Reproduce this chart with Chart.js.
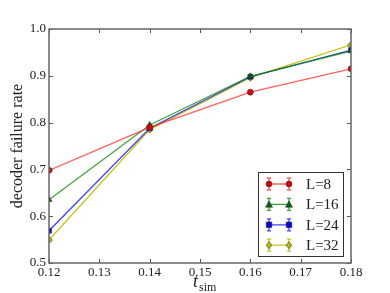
<!DOCTYPE html>
<html>
<head>
<meta charset="utf-8">
<script src="https://cdn.jsdelivr.net/npm/chart.js@4/dist/chart.umd.min.js"></script>
<style>
  html, body { margin: 0; padding: 0; background: #fff; }
  #wrap { width: 390px; height: 293px; }
</style>
</head>
<body>
<div id="wrap"><canvas id="chart" width="390" height="293"></canvas></div>
<script>
// ---- data ----
var tSim   = [0.12, 0.14, 0.16, 0.18];
var xTicks = [0.12, 0.13, 0.14, 0.15, 0.16, 0.17, 0.18];
var yTicks = [0.5, 0.6, 0.7, 0.8, 0.9, 1.0];
var rateL8  = [0.698, 0.790, 0.865, 0.915];
var rateL16 = [0.635, 0.795, 0.899, 0.953];
var rateL24 = [0.569, 0.788, 0.898, 0.955];
var rateL32 = [0.549, 0.785, 0.896, 0.966];
var labels  = ['L=8', 'L=16', 'L=24', 'L=32'];

var FONT = '"Liberation Serif", "DejaVu Serif", serif';
var series = [
    { data: rateL8,  line: 'rgba(255,40,40,0.75)', fill: '#e00000', style: 'circle',   r: 3 },
    { data: rateL16, line: 'rgba(0,128,0,0.75)',   fill: '#006400', style: 'triangle', r: 3.5 },
    { data: rateL24, line: 'rgba(0,0,255,0.75)',   fill: '#0000e0', style: 'rect',     r: 3.5 },
    { data: rateL32, line: 'rgba(190,190,0,0.9)',  fill: '#b8b800', style: 'rectRot',  r: 3.5 }
];

function pts(arr) {
    return arr.map(function(v, i){ return { x: tSim[i], y: v }; });
}

var datasets = series.map(function(s, i){
    return {
        label: labels[i], data: pts(s.data),
        borderColor: s.line, borderWidth: 1.3,
        pointStyle: s.style, pointRadius: s.r, pointBackgroundColor: s.fill,
        pointBorderColor: '#333', pointBorderWidth: 0.6
    };
});

function drawMarker(ctx, style, x, y, r, fill) {
    ctx.save();
    ctx.fillStyle = fill; ctx.strokeStyle = '#333'; ctx.lineWidth = 0.6;
    ctx.beginPath();
    if (style === 'circle') ctx.arc(x, y, r, 0, Math.PI*2);
    else if (style === 'triangle') { ctx.moveTo(x, y-r); ctx.lineTo(x+r, y+r*0.8); ctx.lineTo(x-r, y+r*0.8); ctx.closePath(); }
    else if (style === 'rect') ctx.rect(x-r*0.8, y-r*0.8, r*1.6, r*1.6);
    else { ctx.moveTo(x, y-r); ctx.lineTo(x+r*0.8, y); ctx.lineTo(x, y+r); ctx.lineTo(x-r*0.8, y); ctx.closePath(); }
    ctx.fill(); ctx.stroke();
    ctx.restore();
}

var framePlugin = {
    id: 'frame',
    afterDraw: function(chart) {
        var ctx = chart.ctx, a = chart.chartArea;
        var xs = chart.scales.x, ys = chart.scales.y;
        ctx.save();
        ctx.strokeStyle = '#555'; ctx.lineWidth = 1;
        // inside tick marks on all four sides
        ctx.beginPath();
        xTicks.forEach(function(t){
            var px = Math.round(xs.getPixelForValue(t)) + 0.5;
            ctx.moveTo(px, a.bottom); ctx.lineTo(px, a.bottom - 4);
            ctx.moveTo(px, a.top); ctx.lineTo(px, a.top + 4);
        });
        yTicks.forEach(function(t){
            var py = Math.round(ys.getPixelForValue(t)) + 0.5;
            ctx.moveTo(a.left, py); ctx.lineTo(a.left + 4, py);
            ctx.moveTo(a.right, py); ctx.lineTo(a.right - 4, py);
        });
        ctx.stroke();
        ctx.lineWidth = 1.5; ctx.strokeStyle = '#666';
        ctx.strokeRect(a.left, a.top, a.right - a.left, a.bottom - a.top);

        // tick labels
        ctx.fillStyle = '#222'; ctx.font = '13px ' + FONT;
        ctx.textAlign = 'center'; ctx.textBaseline = 'top';
        xTicks.forEach(function(t){ ctx.fillText(t.toFixed(2), xs.getPixelForValue(t), a.bottom + 3); });
        ctx.textAlign = 'right'; ctx.textBaseline = 'middle';
        yTicks.forEach(function(t){ ctx.fillText(t.toFixed(1), a.left - 3, ys.getPixelForValue(t)); });

        // axis titles
        ctx.font = '16px ' + FONT;
        ctx.save();
        ctx.translate(18, (a.top + a.bottom) / 2);
        ctx.rotate(-Math.PI / 2);
        ctx.textAlign = 'center'; ctx.textBaseline = 'middle';
        ctx.fillText('decoder failure rate', 0, 0);
        ctx.restore();
        ctx.textAlign = 'left'; ctx.textBaseline = 'alphabetic';
        ctx.font = 'italic 18px ' + FONT;
        ctx.fillText('t', 193, 287);
        ctx.font = '12px ' + FONT;
        ctx.fillText('sim', 199, 291);

        // legend with error-bar glyphs
        var lx = 258, ly = 172, lw = 85, lh = 84;
        ctx.fillStyle = '#fff'; ctx.fillRect(lx, ly, lw, lh);
        ctx.strokeStyle = '#333'; ctx.lineWidth = 1;
        ctx.strokeRect(lx + 0.5, ly + 0.5, lw, lh);
        series.forEach(function(s, i){
            var y = 184 + i * 20.4, x1 = 269, x2 = 289;
            ctx.strokeStyle = s.line; ctx.lineWidth = 1.3;
            ctx.beginPath(); ctx.moveTo(x1, y); ctx.lineTo(x2, y);
            [x1, x2].forEach(function(x){
                ctx.moveTo(x, y - 6); ctx.lineTo(x, y + 6);
                ctx.moveTo(x - 2, y - 6); ctx.lineTo(x + 2, y - 6);
                ctx.moveTo(x - 2, y + 6); ctx.lineTo(x + 2, y + 6);
            });
            ctx.stroke();
            drawMarker(ctx, s.style, x1, y, s.r, s.fill);
            drawMarker(ctx, s.style, x2, y, s.r, s.fill);
            ctx.fillStyle = '#222'; ctx.font = '15px ' + FONT;
            ctx.textAlign = 'left'; ctx.textBaseline = 'middle';
            ctx.fillText(labels[i], 306, y + 1);
        });
        ctx.restore();
    }
};

new Chart(document.getElementById('chart'), {
    type: 'line',
    data: { datasets: datasets },
    options: {
        responsive: false, animation: false,
        layout: { padding: { left: 49, right: 39, top: 29, bottom: 30 } },
        plugins: { legend: { display: false }, tooltip: { enabled: false } },
        scales: {
            x: {
                type: 'linear', min: 0.12, max: 0.18,
                grid: { display: false, drawTicks: false }, border: { display: false },
                ticks: { display: false },
                afterFit: function(s){ s.height = 0; }
            },
            y: {
                min: 0.5, max: 1.0,
                grid: { display: false, drawTicks: false }, border: { display: false },
                ticks: { display: false },
                afterFit: function(s){ s.width = 0; }
            }
        }
    },
    plugins: [framePlugin]
});
</script>
</body>
</html>
